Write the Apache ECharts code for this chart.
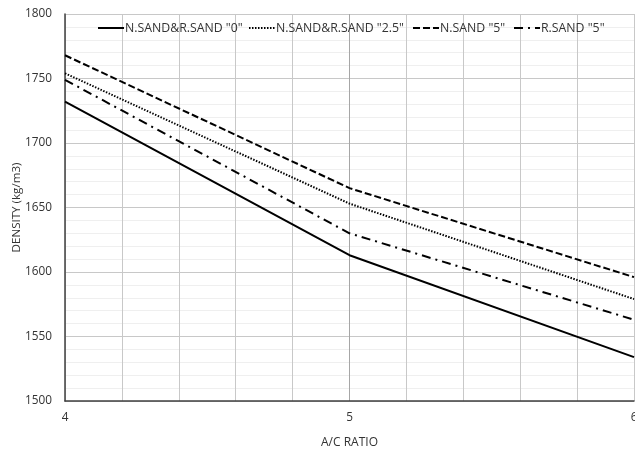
<!DOCTYPE html>
<html>
<head>
<meta charset="utf-8">
<script src="https://cdn.jsdelivr.net/npm/echarts@6/dist/echarts.min.js"></script>
<style>html,body{margin:0;padding:0;background:#fff}#c{width:635px;height:452px}</style>
</head>
<body>
<div id="c"></div>
<script>
var acRatio = [4, 5, 6];
var seriesNames = ['N.SAND&R.SAND "0"', 'N.SAND&R.SAND "2.5"', 'N.SAND "5"', 'R.SAND "5"'];
var sand0 = [1732, 1613, 1534];
var sand25 = [1754, 1653, 1579];
var nsand5 = [1768, 1665, 1596];
var rsand5 = [1749, 1630, 1563];

var FONT = 'Open Sans';
var cv = document.createElement('canvas').getContext('2d');
function fit(text, target){ cv.font = '100px "' + FONT + '"'; return Math.round(100 * target / cv.measureText(text).width * 10) / 10; }
var legendSize = fit('N.SAND&R.SAND "2.5"', 128);
var tickSize = fit('1800', 27);
var xNameSize = fit('A/C RATIO', 57);
var yNameSize = fit('DENSITY (kg/m3)', 90);

function pairs(vals){ return acRatio.map(function(x,i){ return [x, vals[i]]; }); }
function mk(name, vals, type){
  return {
    name: name, type: 'line', data: pairs(vals), symbol: 'none', showSymbol: false,
    lineStyle: { color: '#000', width: 2, type: type },
    itemStyle: { color: '#000' }, animation: false
  };
}
var legendLefts = [97, 248, 412, 513];
var legends = seriesNames.map(function(n, i){
  return {
    left: legendLefts[i], top: 22, padding: 0, itemWidth: 26, itemHeight: 10, itemGap: 0,
    itemStyle: { color: 'rgba(0,0,0,0)', borderWidth: 0, opacity: 0 },
    textStyle: { fontFamily: FONT, fontSize: legendSize, color: '#333', padding: [0, 0, 0, -4] },
    data: [n]
  };
});
var vGridColors = ['#c8c8c8','#c8c8c8','#c8c8c8','#c8c8c8','#c8c8c8','#a6a6a6','#c8c8c8','#c8c8c8','#c8c8c8','#c8c8c8','#c8c8c8'];
var chart = echarts.init(document.getElementById('c'));
chart.setOption({
  animation: false,
  textStyle: { fontFamily: FONT },
  grid: { left: 65, right: 1, top: 14, bottom: 51, containLabel: false, outerBoundsMode: 'none' },
  legend: legends,
  xAxis: {
    type: 'value', min: 4, max: 6, interval: 0.2,
    name: 'A/C RATIO', nameLocation: 'middle', nameGap: 36,
    nameTextStyle: { fontFamily: FONT, fontSize: xNameSize, color: '#333' },
    axisLine: { show: true, lineStyle: { color: '#404040', width: 1.5 } },
    axisTick: { show: false },
    axisLabel: {
      fontFamily: FONT, fontSize: tickSize, color: '#333', margin: 11,
      formatter: function(v){ return Math.abs(v - Math.round(v)) < 1e-6 ? String(Math.round(v)) : ''; }
    },
    splitLine: { show: true, lineStyle: { color: vGridColors, width: 1 } }
  },
  yAxis: {
    type: 'value', min: 1500, max: 1800, interval: 50,
    name: 'DENSITY (kg/m3)', nameLocation: 'middle', nameGap: 42, nameMoveOverlap: false,
    nameTextStyle: { fontFamily: FONT, fontSize: yNameSize, color: '#333' },
    axisLine: { show: true, lineStyle: { color: '#404040', width: 1.5 } },
    axisTick: { show: false },
    axisLabel: { fontFamily: FONT, fontSize: tickSize, color: '#333', margin: 13,
      formatter: function(v){ return String(v); } },
    splitLine: { show: true, lineStyle: { color: '#c8c8c8', width: 1 } },
    minorTick: { show: false, splitNumber: 5 },
    minorSplitLine: { show: true, lineStyle: { color: '#efefef', width: 1 } }
  },
  series: [
    mk(seriesNames[0], sand0, 'solid'),
    mk(seriesNames[1], sand25, [1.5, 1.5]),
    mk(seriesNames[2], nsand5, [7, 3]),
    mk(seriesNames[3], rsand5, [9, 5, 2, 5])
  ]
});
</script>
</body>
</html>
